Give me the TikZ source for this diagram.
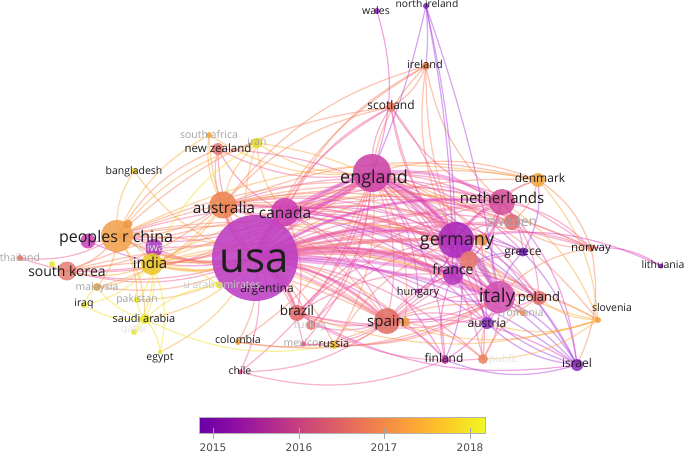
\documentclass[tikz,border=0pt]{standalone}
\usepackage{fontspec}
\setmainfont{Open Sans}
\newfontfamily\cbfont{DejaVu Sans}
\usetikzlibrary{backgrounds}
\definecolor{pl0}{HTML}{6A00A8}
\definecolor{pl1}{HTML}{8F0DA4}
\definecolor{pl2}{HTML}{B12A90}
\definecolor{pl3}{HTML}{CC4778}
\definecolor{pl4}{HTML}{E16462}
\definecolor{pl5}{HTML}{F2844B}
\definecolor{pl6}{HTML}{FCA636}
\definecolor{pl7}{HTML}{FCCE25}
\definecolor{pl8}{HTML}{F0F921}
\pgfdeclarehorizontalshading{plasmabar}{100bp}{color(0bp)=(pl0); color(25bp)=(pl0); color(31.25bp)=(pl1); color(37.5bp)=(pl2); color(43.75bp)=(pl3); color(50bp)=(pl4); color(56.25bp)=(pl5); color(62.5bp)=(pl6); color(68.75bp)=(pl7); color(75bp)=(pl8); color(100bp)=(pl8)}
\definecolor{cP}{RGB}{170,60,225}
\definecolor{cM}{RGB}{222,60,190}
\definecolor{cK}{RGB}{240,90,150}
\definecolor{cS}{RGB}{248,130,90}
\definecolor{cO}{RGB}{250,170,60}
\definecolor{cY}{RGB}{245,225,40}
\definecolor{lblc}{RGB}{30,30,30}
\definecolor{fa}{RGB}{165,165,165}
\definecolor{fb}{RGB}{200,200,200}
\definecolor{fc}{RGB}{228,228,228}
\newcommand\lfs[1]{\fontsize{#1}{#1}\selectfont}
\newcommand\cnode[5]{\definecolor{c-#1}{RGB}{#5}\node[dot, minimum size=#4pt, fill=c-#1] (#1) at (#2,#3) {};}
\newcommand\clabel[6]{\node[lbl, text=#6, font={\lfs{#5}}] (#1-l) at (#2,#3) {#4};}
\tikzset{
  dot/.style={circle, inner sep=0pt, draw=none, fill opacity=0.88},
  lbl/.style={anchor=base, inner sep=0pt},
  edge/.style={line width=1.25pt, draw opacity=0.45},
  heavy/.style={line width=3.2pt, draw opacity=0.38},
  tickmark/.style={draw=gray!70, line width=0.8pt},
  cblbl/.style={font={\cbfont\lfs{10.5}}, text=black!70, inner sep=0pt}
}
\begin{document}
\begin{tikzpicture}[x=1pt,y=-1pt]
\useasboundingbox (0,0) rectangle (685,453);
% ---------- nodes (circles) ----------
\cnode{usa}{255}{258}{86}{190,62,195}
\cnode{england}{372}{173}{38}{205,68,168}
\cnode{canada}{285}{212}{28}{205,62,180}
\cnode{australia}{223}{205}{27}{236,132,82}
\cnode{china}{117}{236}{32}{242,162,78}
\cnode{chinaB}{128}{224}{9}{240,150,70}
\cnode{sgp}{88}{241}{15}{205,70,185}
\cnode{taiwan}{154}{248}{18}{175,55,195}
\cnode{india}{152}{264}{22}{236,200,45}
\cnode{skorea}{67}{271}{19}{232,128,118}
\cnode{skYel}{52}{264}{6}{230,235,40}
\cnode{thailand}{20}{258}{6}{230,110,90}
\cnode{bangladesh}{134}{171}{6}{240,195,40}
\cnode{safrica}{209}{135}{6}{245,165,60}
\cnode{nz}{218}{149}{12}{232,118,112}
\cnode{iran}{257}{143}{11}{228,222,40}
\cnode{malaysia}{97}{287}{8}{236,165,60}
\cnode{iraq}{84}{305}{6}{235,230,40}
\cnode{pakistan}{137}{300}{6}{235,230,40}
\cnode{saudi}{145}{319}{10}{235,232,40}
\cnode{qatar}{134}{332}{6}{230,230,40}
\cnode{egypt}{160}{352}{4}{235,230,40}
\cnode{uae}{219}{285}{7}{230,230,40}
\cnode{argentina}{267}{288}{5}{200,70,180}
\cnode{colombia}{238}{342}{6}{240,160,60}
\cnode{chile}{240}{372}{5}{230,80,150}
\cnode{brazil}{297}{313}{16}{226,108,108}
\cnode{turkey}{311}{325}{10}{228,115,110}
\cnode{mexico}{303}{344}{5}{228,80,140}
\cnode{russia}{334}{345}{8}{240,200,50}
\cnode{spain}{387}{321}{26}{226,112,102}
\cnode{spainB}{405}{322}{10}{240,150,70}
\cnode{germany}{456}{240}{36}{170,42,188}
\cnode{france}{453}{275}{20}{180,55,190}
\cnode{belg}{469}{260}{18}{232,122,108}
\cnode{switz}{482}{240}{12}{240,148,72}
\cnode{netherlands}{502}{202}{26}{212,80,155}
\cnode{sweden}{512}{222}{16}{226,112,112}
\cnode{denmark}{538}{180}{14}{240,168,62}
\cnode{greece}{523}{252}{9}{120,30,195}
\cnode{norway}{591}{248}{8}{236,132,100}
\cnode{lithuania}{661}{266}{5}{140,30,190}
\cnode{italy}{499}{297}{32}{212,82,178}
\cnode{poland}{539}{298}{14}{226,112,112}
\cnode{romania}{523}{313}{6}{240,150,70}
\cnode{austria}{487}{323}{12}{150,50,205}
\cnode{hungary}{418}{291}{5}{190,60,190}
\cnode{slovenia}{598}{320}{6}{242,160,60}
\cnode{finland}{445}{360}{8}{195,55,175}
\cnode{czech}{483}{359}{10}{236,132,100}
\cnode{israel}{577}{365}{12}{140,45,195}
\cnode{ireland}{426}{66}{8}{238,132,82}
\cnode{scotland}{391}{107}{10}{236,122,102}
\cnode{wales}{377}{11}{6}{150,40,195}
\cnode{nireland}{426}{6}{6}{130,30,195}
% ---------- connectors ----------
\begin{scope}[on background layer]
\fill[white] (0,0) rectangle (685,453);
\foreach \a/\b/\c in {
usa/australia/cK, usa/china/cS, usa/india/cO, usa/skorea/cK, usa/france/cM, usa/netherlands/cM, usa/spain/cK, usa/brazil/cK, usa/sweden/cK, usa/denmark/cS, usa/norway/cK, usa/greece/cM, usa/israel/cP, usa/scotland/cK, usa/ireland/cS, usa/nz/cK, usa/iran/cO, usa/saudi/cO, usa/pakistan/cO, usa/egypt/cO, usa/chile/cK, usa/colombia/cS, usa/mexico/cK, usa/russia/cS, usa/turkey/cK, usa/taiwan/cM, usa/thailand/cK, usa/malaysia/cS, usa/uae/cY, usa/poland/cK, usa/austria/cM, usa/finland/cM, usa/czech/cK, usa/belg/cK, usa/switz/cS, usa/hungary/cM, usa/romania/cS, usa/slovenia/cS, usa/spainB/cS, usa/sgp/cM, usa/safrica/cO, usa/bangladesh/cO, usa/argentina/cM,
england/australia/cK, england/china/cK, england/france/cM, england/spain/cK, england/scotland/cK, england/ireland/cS, wales/england/cM, england/sweden/cK, england/denmark/cS, england/nz/cK, england/greece/cM, england/israel/cP, england/poland/cK, england/brazil/cK, england/india/cS, england/norway/cK, england/austria/cM, england/finland/cM, england/belg/cK, england/switz/cS, england/skorea/cK, england/safrica/cO, england/iran/cO, england/taiwan/cK, england/russia/cS, england/czech/cK, england/romania/cS, england/hungary/cM, england/turkey/cK, england/mexico/cK, england/chile/cK, england/colombia/cS, england/slovenia/cS, england/spainB/cS,
canada/china/cK, canada/germany/cM, canada/italy/cM, canada/netherlands/cM, canada/france/cM, canada/spain/cK, canada/india/cS, canada/brazil/cK, canada/israel/cP, canada/sweden/cK, canada/scotland/cK, canada/nz/cK, canada/iran/cO, canada/skorea/cK, canada/denmark/cS, canada/norway/cK, canada/ireland/cS, canada/poland/cK, canada/austria/cM, canada/greece/cM, canada/finland/cM, canada/belg/cK, canada/switz/cS,
australia/china/cS, australia/nz/cS, australia/india/cO, australia/germany/cK, australia/italy/cK, australia/netherlands/cK, australia/spain/cS, australia/sweden/cS, australia/denmark/cS, australia/skorea/cS, australia/safrica/cO, australia/iran/cO, australia/scotland/cS, australia/malaysia/cO, australia/france/cK, australia/ireland/cS, australia/belg/cS, australia/switz/cS, australia/norway/cS, australia/poland/cS, australia/brazil/cS,
china/skorea/cS, china/india/cO, china/taiwan/cK, china/thailand/cK, china/bangladesh/cO, china/germany/cK, china/italy/cS, china/malaysia/cO, china/pakistan/cO, china/saudi/cO, china/iran/cO, china/sgp/cK, china/safrica/cO, china/chinaB/cO, china/netherlands/cS, china/france/cS, china/spain/cS, china/sweden/cS, china/denmark/cO, china/nz/cS, china/scotland/cS,
india/saudi/cY, india/pakistan/cY, india/egypt/cY, india/iran/cY, india/malaysia/cO, india/skorea/cO, india/iraq/cY, india/qatar/cY, india/uae/cY, india/germany/cO, india/italy/cO, india/spain/cO, india/france/cO, india/netherlands/cO,
saudi/egypt/cY, saudi/pakistan/cY, saudi/qatar/cY, saudi/iraq/cY, saudi/malaysia/cY, saudi/uae/cY, iraq/malaysia/cY, skorea/skYel/cY, russia/saudi/cY, skorea/germany/cS, skorea/italy/cS, skorea/spain/cS,
germany/spain/cK, germany/sweden/cK, germany/greece/cP, germany/austria/cP, germany/poland/cK, germany/switz/cK, germany/belg/cM, germany/norway/cK, germany/denmark/cK, germany/israel/cP, germany/finland/cP, germany/hungary/cP, germany/lithuania/cM, germany/czech/cK, germany/scotland/cK, germany/ireland/cS,
italy/spain/cK, italy/netherlands/cM, italy/greece/cP, italy/poland/cK, italy/austria/cM, italy/israel/cP, italy/slovenia/cO, italy/romania/cS, italy/finland/cM, italy/czech/cK, italy/brazil/cK, italy/belg/cK, italy/switz/cS, italy/norway/cS, italy/hungary/cM, italy/scotland/cK, italy/ireland/cS,
netherlands/denmark/cS, netherlands/sweden/cK, netherlands/norway/cK, netherlands/france/cM, netherlands/spain/cK, netherlands/belg/cK, netherlands/greece/cM, netherlands/israel/cM, netherlands/poland/cK, netherlands/ireland/cS, netherlands/scotland/cK, netherlands/slovenia/cO, brazil/netherlands/cK,
spain/france/cK, spain/poland/cK, spain/brazil/cK, slovenia/spain/cO, spain/chile/cK, spain/colombia/cS, spain/mexico/cK, spain/austria/cK, spain/czech/cS, spain/finland/cK, spain/greece/cK, spain/israel/cM, spain/romania/cS, spain/turkey/cK, spain/russia/cS,
denmark/norway/cS, denmark/sweden/cS, denmark/greece/cP, denmark/slovenia/cO, norway/sweden/cS, norway/lithuania/cM, norway/israel/cS, israel/france/cP, greece/israel/cP, israel/finland/cP, israel/austria/cP, israel/brazil/cM, slovenia/poland/cO, slovenia/austria/cO, slovenia/germany/cO, slovenia/czech/cO, slovenia/brazil/cO, czech/austria/cS, czech/poland/cS, czech/brazil/cK, poland/brazil/cK, finland/france/cM, ireland/scotland/cS, scotland/france/cK, finland/chile/cK, brazil/france/cK, brazil/germany/cK, russia/germany/cS, italy/russia/cS, turkey/germany/cK, italy/mexico/cK, italy/colombia/cS, iran/germany/cO, nz/germany/cK, france/greece/cP, france/poland/cK, france/austria/cM}
{\draw[edge, draw=\c] (\a.center) to[bend left=18] (\b.center);}
\foreach \a/\b/\c in {nireland/england/cP, nireland/germany/cP, nireland/italy/cP, nireland/france/cP, nireland/ireland/cP}
{\draw[edge, draw=\c] (\a.center) to[bend left=5] (\b.center);}
\foreach \a/\b/\c in {
usa/england/cM, usa/canada/cM, usa/germany/cM, usa/italy/cM, usa/australia/cK, usa/china/cS, usa/france/cM, usa/netherlands/cM, usa/spain/cK, england/germany/cM, england/netherlands/cM, england/italy/cM, england/canada/cM, germany/france/cP, germany/italy/cP, germany/netherlands/cM, italy/france/cM, canada/australia/cK, usa/brazil/cK, usa/india/cO}
{\draw[heavy, draw=\c] (\a.center) to[bend left=18] (\b.center);}
\foreach \a/\b/\c in {
usa/england/cM, usa/germany/cM, usa/italy/cM, usa/canada/cM, england/germany/cM, usa/france/cM, usa/netherlands/cK, usa/spain/cK, germany/italy/cP, canada/england/cM, usa/sweden/cK, usa/switz/cS, usa/belg/cK}
{\draw[heavy, draw=\c] (\a.center) to[bend left=6] (\b.center);}
\end{scope}
% ---------- labels ----------
\clabel{usa}{254}{272}{usa}{42}{lblc}
\clabel{england}{374}{183}{england}{18}{lblc}
\clabel{canada}{285}{218}{canada}{15.5}{lblc}
\clabel{australia}{224}{213}{australia}{15.5}{lblc}
\clabel{china}{116}{242}{peoples r china}{16}{lblc}
\clabel{taiwan}{154}{251}{taiwan}{11}{fc}
\clabel{india}{150}{268}{india}{15}{lblc}
\clabel{skorea}{67}{276}{south korea}{14}{lblc}
\clabel{germany}{457}{245}{germany}{18}{lblc}
\clabel{france}{453}{274}{france}{14}{lblc}
\clabel{netherlands}{502}{203}{netherlands}{15}{lblc}
\clabel{sweden}{512}{226}{sweden}{14}{fa}
\clabel{denmark}{540}{182}{denmark}{12}{lblc}
\clabel{greece}{523}{255}{greece}{12}{lblc}
\clabel{norway}{591}{251}{norway}{11.5}{lblc}
\clabel{lithuania}{663}{268}{lithuania}{10.5}{lblc}
\clabel{italy}{497}{302}{italy}{19}{lblc}
\clabel{poland}{539}{301}{poland}{13}{lblc}
\clabel{romania}{523}{316}{romania}{10.5}{fa}
\clabel{austria}{487}{327}{austria}{12}{lblc}
\clabel{slovenia}{612}{311}{slovenia}{10.5}{lblc}
\clabel{finland}{444}{362}{finland}{12}{lblc}
\clabel{czech}{504}{362}{public}{10.5}{fc}
\clabel{israel}{577}{367}{israel}{12}{lblc}
\clabel{hungary}{418}{295}{hungary}{11}{lblc}
\clabel{spain}{386}{326}{spain}{15}{lblc}
\clabel{brazil}{297}{315}{brazil}{13.5}{lblc}
\clabel{turkey}{310}{328}{turkey}{11}{fb}
\clabel{mexico}{301}{346}{mexico}{10.5}{fa}
\clabel{russia}{334}{347}{russia}{11}{lblc}
\clabel{colombia}{238}{343}{colombia}{10.7}{lblc}
\clabel{chile}{240}{374}{chile}{10.5}{lblc}
\clabel{argentina}{267}{292}{argentina}{12}{lblc}
\clabel{uae}{222}{288}{u arab emirates}{10.5}{fb}
\clabel{malaysia}{97}{290}{malaysia}{10.5}{fa}
\clabel{iraq}{84}{306}{iraq}{10.5}{lblc}
\clabel{pakistan}{137}{302}{pakistan}{10.5}{fa}
\clabel{saudi}{144}{322}{saudi arabia}{11}{lblc}
\clabel{qatar}{134}{332}{qatar}{10.5}{fc}
\clabel{egypt}{160}{360}{egypt}{10.5}{lblc}
\clabel{thailand}{20}{261}{thailand}{10.5}{fa}
\clabel{bangladesh}{134}{174}{bangladesh}{10.5}{lblc}
\clabel{safrica}{209}{138}{south africa}{10.5}{fa}
\clabel{nz}{218}{152}{new zealand}{11.5}{lblc}
\clabel{iran}{257}{145}{iran}{10.5}{fa}
\clabel{wales}{376}{14}{wales}{10.5}{lblc}
\clabel{nireland}{427}{7}{north ireland}{10.3}{lblc}
\clabel{ireland}{425}{68}{ireland}{11}{lblc}
\clabel{scotland}{391}{109}{scotland}{12}{lblc}
% ---------- colour bar ----------
\node[shade, shading=plasmabar, draw=gray!60, line width=0.8pt, minimum width=286pt, minimum height=16pt, inner sep=0pt] (cbar) at (342,425) {};
\foreach \x/\yr in {213/2015, 299/2016, 384/2017, 470/2018}{
  \draw[tickmark] (\x,428) -- (\x,439);
  \node[cblbl] (yr\yr) at (\x,448) {\yr};
}
\end{tikzpicture}
\end{document}
